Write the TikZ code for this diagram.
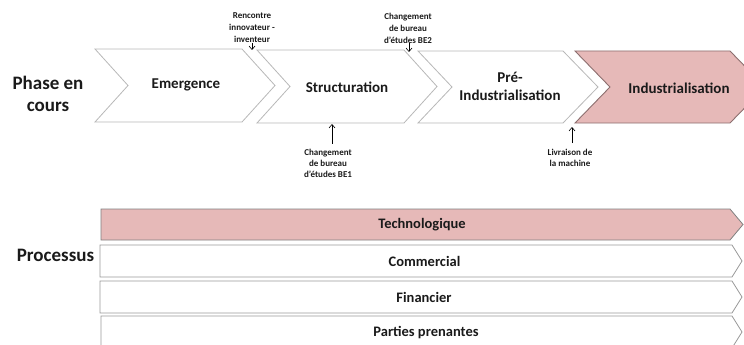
\documentclass[tikz,border=0pt]{standalone}
\usepackage{fontspec}
\setmainfont{Carlito}
\usetikzlibrary{arrows.meta}
\definecolor{pinkf}{HTML}{E6B9B8}
\definecolor{pinkd}{HTML}{8C6F6F}
\definecolor{txt}{HTML}{1A1A1A}
\tikzset{
  chevw/.style={draw=black!28, fill=white, line width=0.8pt, line join=miter},
  chevp/.style={draw=pinkd, fill=pinkf, line width=0.9pt, line join=miter},
  barw/.style={draw=black!40, fill=white, line width=0.8pt},
  barp/.style={draw=black!50, fill=pinkf, line width=0.8pt},
  biglbl/.style={font=\bfseries\fontsize{19}{22}\selectfont, text=txt, align=center, inner sep=0pt},
  phlbl/.style={font=\bfseries\fontsize{15}{18}\selectfont, text=txt, align=center, inner sep=0pt},
  barlbl/.style={font=\bfseries\fontsize{14.5}{16}\selectfont, text=txt, align=center, inner sep=0pt},
  note/.style={font=\bfseries\fontsize{9}{12}\selectfont, text=txt, align=center, inner sep=0pt},
  noteb/.style={font=\bfseries\fontsize{9}{11}\selectfont, text=txt, align=center, inner sep=0pt},
  arr/.style={-{Straight Barb[length=3.5pt,width=6pt]}, line width=0.6pt, black}
}
\begin{document}
\begin{tikzpicture}[x=1pt,y=-1pt]
\useasboundingbox (0,0) rectangle (744,345);
\clip (0,0) rectangle (744,345);
% chevrons
\draw[chevw] (95,49) -- (242,49) -- (275,85.5) -- (242,122) -- (95,122) -- (128,85.5) -- cycle;
\draw[chevw] (257,50) -- (404,50) -- (437,86.5) -- (404,123) -- (257,123) -- (290,86.5) -- cycle;
\draw[chevw] (418,51) -- (563,51) -- (598,87) -- (563,123) -- (418,123) -- (452,87) -- cycle;
\draw[chevp] (575,51) -- (730,51) -- (765,87) -- (730,123) -- (575,123) -- (610,87) -- cycle;
\node[phlbl] (emer) at (186,85) {Emergence};
\node[phlbl] (struc) at (347,87) {Structuration};
\node[phlbl] (pre) at (510,86) {Pré-\\Industrialisation};
\node[phlbl] (indus) at (679,88) {Industrialisation};
\node[biglbl] (phase) at (48,94) {Phase en\\cours};
% bars
\draw[barp] (101,209) -- (730,209) -- (743,224.5) -- (730,240) -- (101,240) -- cycle;
\draw[barw] (100,245) -- (732,245) -- (742,261) -- (732,277) -- (100,277) -- cycle;
\draw[barw] (100,281) -- (732,281) -- (742,297) -- (732,313) -- (100,313) -- cycle;
\draw[barw] (101,316) -- (732,316) -- (742,332) -- (732,348) -- (101,348) -- cycle;
\node[barlbl] (techno) at (422,225) {Technologique};
\node[barlbl] (comm) at (424.5,261) {Commercial};
\node[barlbl] (fin) at (424,297) {Financier};
\node[barlbl] (parties) at (426,333) {Parties prenantes};
\node[biglbl] (proc) at (55.5,255) {Processus};
% annotations
\node[note] (n1) at (252,28) {Rencontre\\innovateur -\\inventeur};
\node[note] (n2) at (408,28) {Changement\\de bureau\\d’études BE2};
\node[noteb] (n3) at (328,163) {Changement\\de bureau\\d’études BE1};
\node[noteb] (n4) at (570,158) {Livraison de\\la machine};
\coordinate (p1) at (252,50);
\coordinate (p2) at (409,52);
\coordinate (p3) at (332,124);
\coordinate (p4) at (572,127);
\draw[arr] (252,43) -- (p1);
\draw[arr] (n2.south -| p2) -- (p2);
\draw[arr] ([yshift=5pt]n3.north -| p3) -- (p3);
\draw[arr] ([yshift=6pt]n4.north -| p4) -- (p4);
\end{tikzpicture}
\end{document}
